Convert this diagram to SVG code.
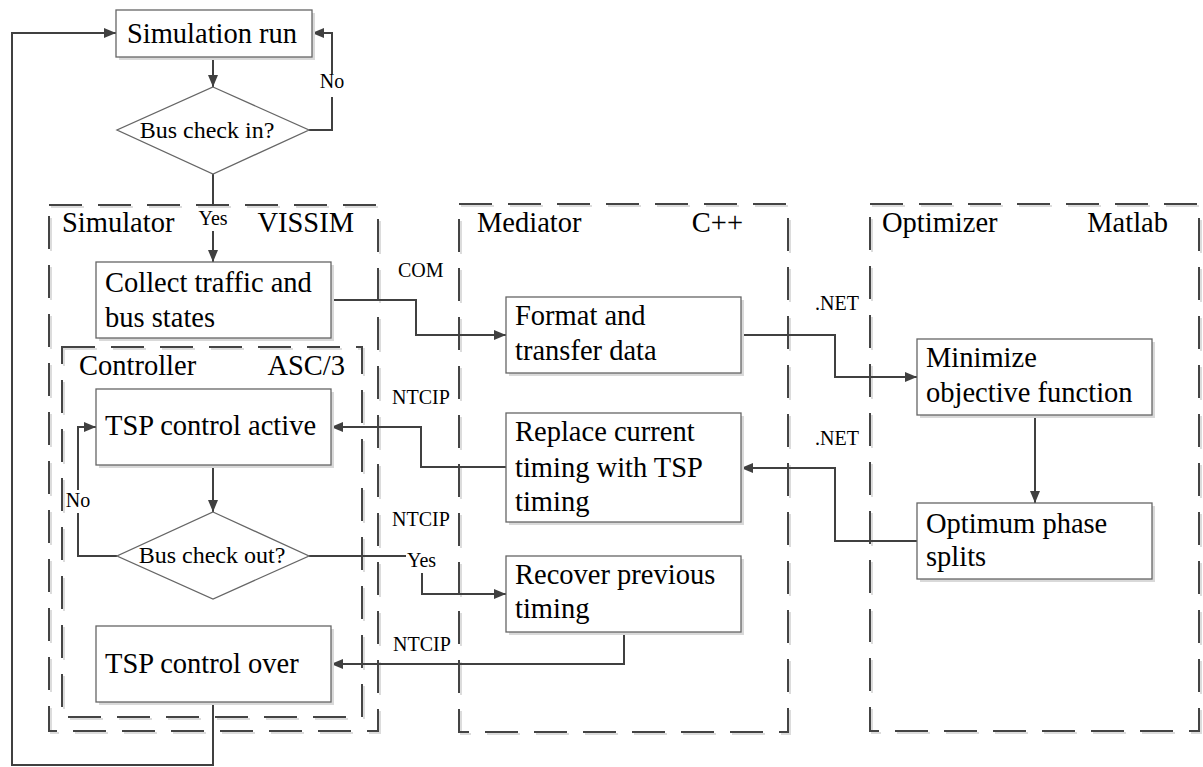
<svg xmlns="http://www.w3.org/2000/svg" width="1203" height="767" viewBox="0 0 1203 767">
<defs>
<marker id="ah" viewBox="0 0 12 10" refX="12" refY="5" markerWidth="12" markerHeight="10" markerUnits="userSpaceOnUse" orient="auto">
<path d="M0,0 L12,5 L0,10 z" fill="#404040"/>
</marker>
<style>
.t{font-family:"Liberation Serif","Times New Roman",serif;fill:#000}
.big{font-size:28.5px}
.mid{font-size:24px}
.sm{font-size:20px}
.box{fill:#fff;stroke:#666;stroke-width:1.3}
.sh{fill:#d9d9d9;stroke:none}
.dash{fill:none;stroke:#444;stroke-width:2;stroke-dasharray:33 16}
.dsh{fill:none;stroke:#dcdcdc;stroke-width:2;stroke-dasharray:33 16}
.c{fill:none;stroke:#404040;stroke-width:2}
.ca{fill:none;stroke:#404040;stroke-width:2;marker-end:url(#ah)}
</style>
</defs>
<rect width="1203" height="767" fill="#fff"/>

<g id="containers">
<rect class="dsh" x="51" y="207" width="329" height="526"/>
<rect class="dash" x="49" y="205" width="329" height="526"/>
<rect class="dsh" x="64" y="349" width="300" height="370"/>
<rect class="dash" x="62" y="347" width="300" height="370"/>
<rect class="dsh" x="461" y="206" width="329" height="528"/>
<rect class="dash" x="459" y="204" width="329" height="528"/>
<rect class="dsh" x="872" y="206" width="329" height="527"/>
<rect class="dash" x="870" y="204" width="329" height="527"/>
<text class="t big" x="62" y="232">Simulator</text>
<text class="t big" x="354" y="232" text-anchor="end">VISSIM</text>
<text class="t big" x="79" y="375">Controller</text>
<text class="t big" x="345" y="375" text-anchor="end">ASC/3</text>
<text class="t big" x="477" y="232">Mediator</text>
<text class="t big" x="743" y="232" text-anchor="end">C++</text>
<text class="t big" x="882" y="232">Optimizer</text>
<text class="t big" x="1168" y="232" text-anchor="end">Matlab</text>
</g>

<g id="connectors">
<path class="ca" d="M213,57 V87"/>
<path class="c" d="M309,130 H332 V97"/>
<path class="ca" d="M332,74 V33 H312"/>
<path class="c" d="M213,174 V206"/>
<path class="ca" d="M213,231 V262"/>
<path class="ca" d="M331,300 H416 V335 H506"/>
<path class="ca" d="M213,465 V512"/>
<path class="c" d="M117,556 H78 V513"/>
<path class="ca" d="M78,490 V427 H96"/>
<path class="c" d="M309,556 H406"/>
<path class="ca" d="M422,573 V594 H506"/>
<path class="ca" d="M506,467 H421 V427 H331"/>
<path class="ca" d="M741,335 H835 V377 H917"/>
<path class="ca" d="M1035,415 V503"/>
<path class="ca" d="M917,541 H835 V468 H741"/>
<path class="ca" d="M624,632 V664 H331"/>
<path class="ca" d="M213,702 V765 H12 V33 H116"/>
<text class="t sm" x="332" y="88" text-anchor="middle">No</text>
<text class="t sm" x="213" y="225" text-anchor="middle">Yes</text>
<text class="t sm" x="78" y="507" text-anchor="middle">No</text>
<text class="t sm" x="407" y="567">Yes</text>
<text class="t sm" x="398" y="277">COM</text>
<text class="t sm" x="392" y="404">NTCIP</text>
<text class="t sm" x="392" y="526">NTCIP</text>
<text class="t sm" x="393" y="651">NTCIP</text>
<text class="t sm" x="815" y="310">.NET</text>
<text class="t sm" x="815" y="445">.NET</text>
</g>

<g id="sim-run">
<rect class="sh" x="119" y="13" width="196" height="47"/>
<rect class="box" x="116" y="10" width="196" height="47"/>
<text class="t big" x="212" y="43" text-anchor="middle">Simulation run</text>
</g>

<g id="check-in">
<polygon points="213,87 309,130 213,174 117,130" fill="#fff" stroke="#666" stroke-width="1.3"/>
<text class="t mid" x="207" y="138" text-anchor="middle">Bus check in?</text>
</g>

<g id="collect">
<rect class="sh" x="99" y="265" width="235" height="76"/>
<rect class="box" x="96" y="262" width="235" height="76"/>
<text class="t big" x="105" y="292">Collect traffic and</text>
<text class="t big" x="105" y="327">bus states</text>
</g>

<g id="tsp-active">
<rect class="sh" x="99" y="392" width="235" height="76"/>
<rect class="box" x="96" y="389" width="235" height="76"/>
<text class="t big" x="105" y="435">TSP control active</text>
</g>

<g id="check-out">
<polygon points="213,512 309,556 213,599 117,556" fill="#fff" stroke="#666" stroke-width="1.3"/>
<text class="t mid" x="212" y="563" text-anchor="middle">Bus check out?</text>
</g>

<g id="tsp-over">
<rect class="sh" x="99" y="629" width="235" height="76"/>
<rect class="box" x="96" y="626" width="235" height="76"/>
<text class="t big" x="105" y="673">TSP control over</text>
</g>

<g id="format">
<rect class="sh" x="509" y="300" width="235" height="76"/>
<rect class="box" x="506" y="297" width="235" height="76"/>
<text class="t big" x="515" y="325">Format and</text>
<text class="t big" x="515" y="360">transfer data</text>
</g>

<g id="replace">
<rect class="sh" x="509" y="416" width="235" height="109"/>
<rect class="box" x="506" y="413" width="235" height="109"/>
<text class="t big" x="515" y="441">Replace current</text>
<text class="t big" x="515" y="477">timing with TSP</text>
<text class="t big" x="515" y="511">timing</text>
</g>

<g id="recover">
<rect class="sh" x="509" y="559" width="235" height="76"/>
<rect class="box" x="506" y="556" width="235" height="76"/>
<text class="t big" x="515" y="584">Recover previous</text>
<text class="t big" x="515" y="618">timing</text>
</g>

<g id="minimize">
<rect class="sh" x="920" y="342" width="235" height="76"/>
<rect class="box" x="917" y="339" width="235" height="76"/>
<text class="t big" x="926" y="367">Minimize</text>
<text class="t big" x="926" y="402">objective function</text>
</g>

<g id="optimum">
<rect class="sh" x="920" y="506" width="235" height="76"/>
<rect class="box" x="917" y="503" width="235" height="76"/>
<text class="t big" x="926" y="533">Optimum phase</text>
<text class="t big" x="926" y="566">splits</text>
</g>
</svg>
